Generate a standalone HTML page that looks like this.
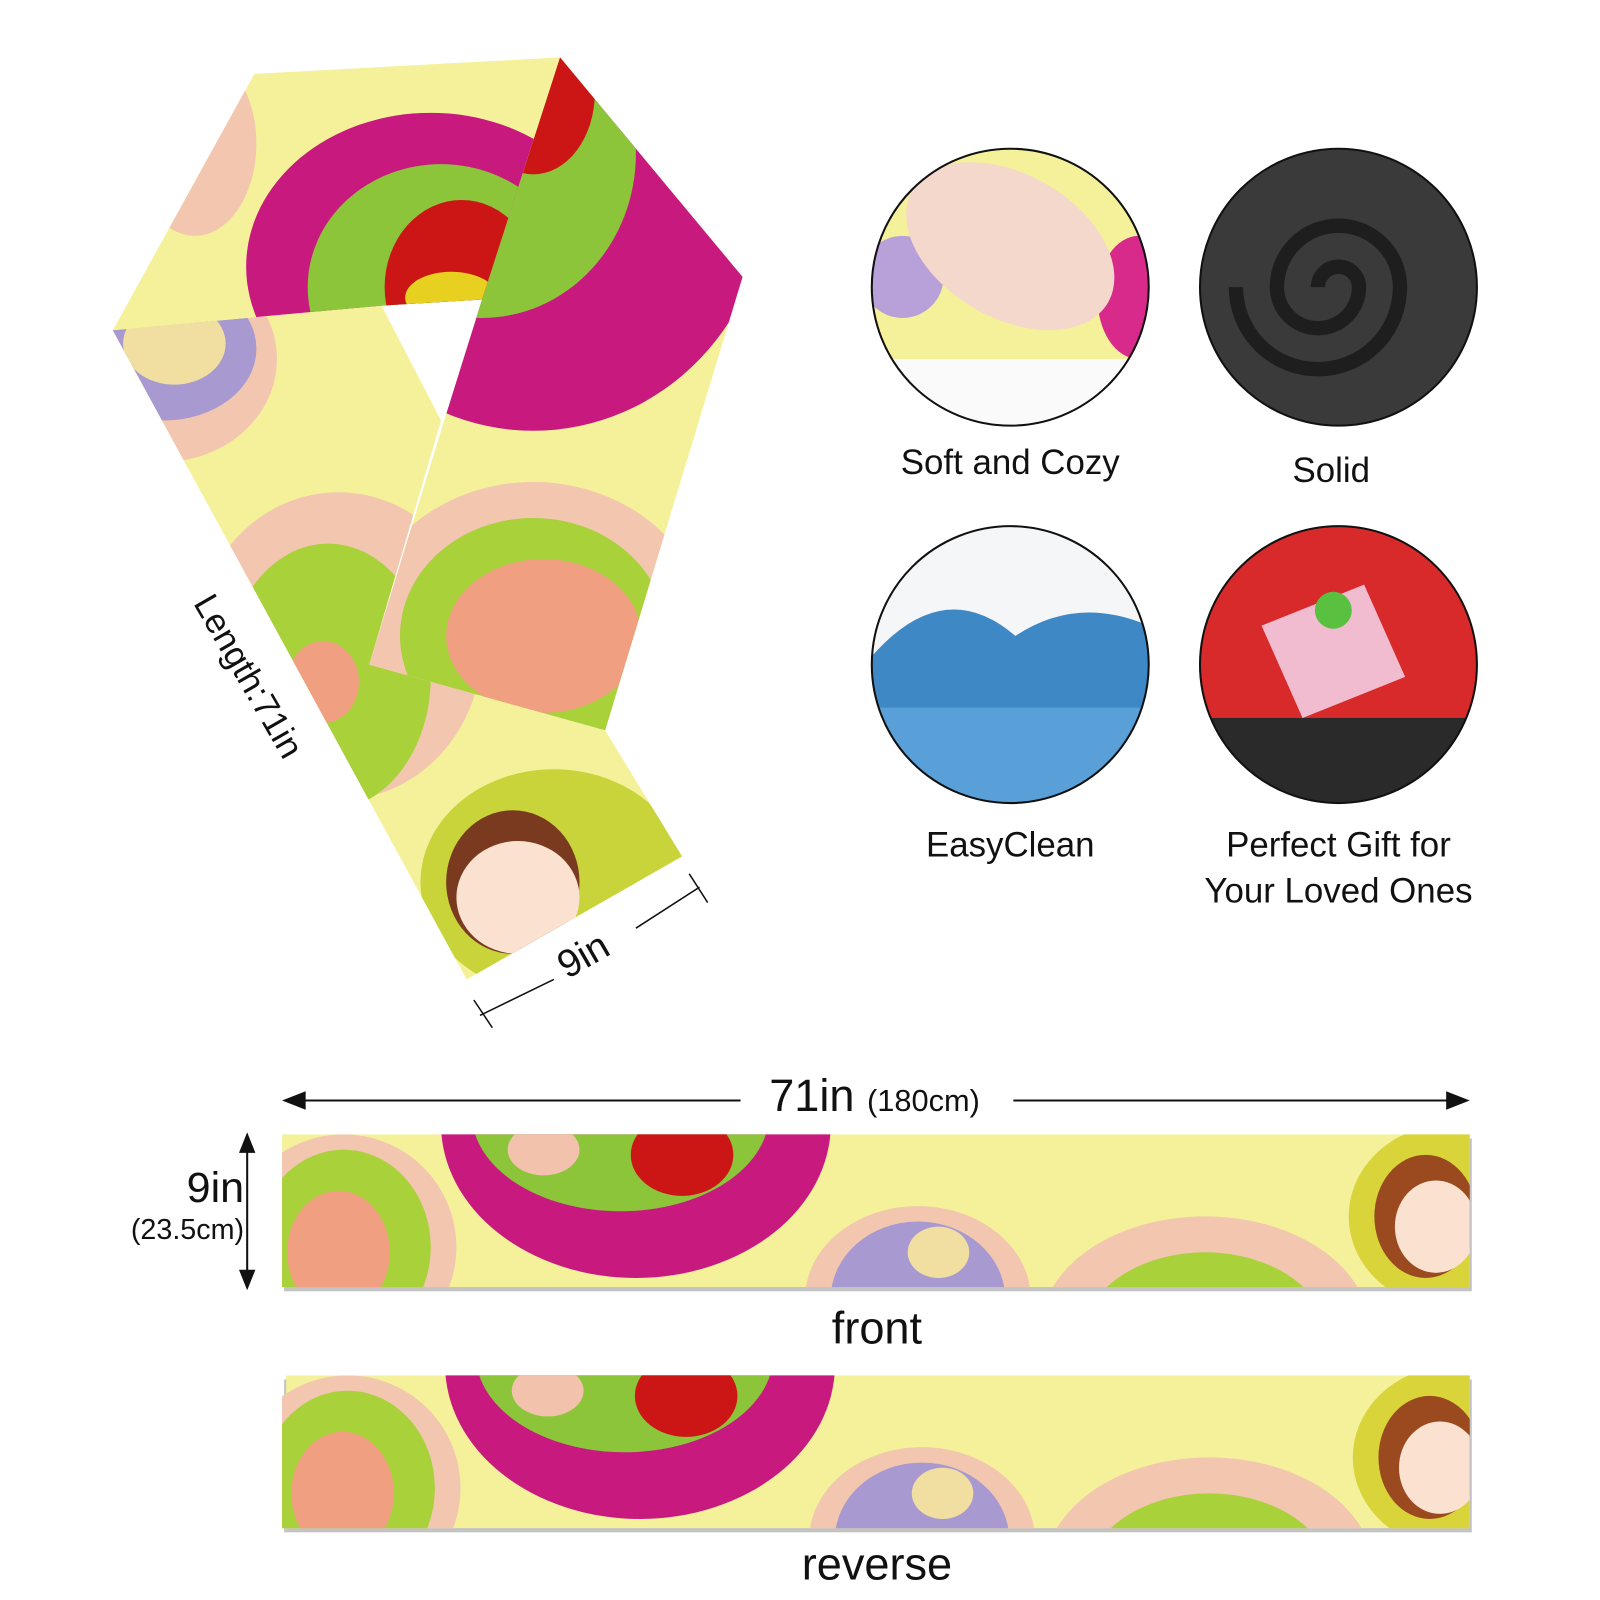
<!DOCTYPE html>
<html><head><meta charset="utf-8"><style>
html,body{margin:0;padding:0;background:#fff;width:1600px;height:1600px;overflow:hidden;}
svg{display:block;}
text{font-family:"Liberation Sans","DejaVu Sans",sans-serif;fill:#111;}
</style></head><body>
<svg width="1600" height="1600" viewBox="0 0 1560 1560" xmlns="http://www.w3.org/2000/svg" style="overflow:hidden">
<defs>
<clipPath id="cA"><polygon points="110,322 248,72 546,56 470,292 372,298 262,308"/></clipPath>
<clipPath id="cB"><polygon points="546,56 724,270 590,712 360,648 430,420 470,292"/></clipPath>
<clipPath id="cC"><polygon points="110,322 372,298 430,410 360,648 590,712 665,835 455,955"/></clipPath>
<clipPath id="cF"><rect x="275" y="1106" width="1158" height="149"/></clipPath>
<clipPath id="cR"><rect x="275" y="1341" width="1158" height="149"/></clipPath>
<clipPath id="k1"><circle cx="985" cy="280" r="135"/></clipPath>
<clipPath id="k2"><circle cx="1305" cy="280" r="135"/></clipPath>
<clipPath id="k3"><circle cx="985" cy="648" r="135"/></clipPath>
<clipPath id="k4"><circle cx="1305" cy="648" r="135"/></clipPath>
<g id="strip">
<rect x="0" y="0" width="1158" height="149" fill="#f4f19a"/>
<ellipse cx="60" cy="110" rx="110" ry="110" fill="#f3c6b0"/>
<ellipse cx="60" cy="110" rx="85" ry="95" fill="#a8d13a"/>
<ellipse cx="55" cy="115" rx="50" ry="60" fill="#f0a080"/>
<ellipse cx="345" cy="-10" rx="190" ry="150" fill="#c8197f"/>
<ellipse cx="330" cy="-20" rx="145" ry="95" fill="#8cc43a"/>
<ellipse cx="390" cy="20" rx="50" ry="40" fill="#cc1515"/>
<ellipse cx="255" cy="15" rx="35" ry="25" fill="#f3c2ac"/>
<ellipse cx="620" cy="160" rx="110" ry="90" fill="#f3c6b0"/>
<ellipse cx="620" cy="160" rx="85" ry="75" fill="#a89ad0"/>
<ellipse cx="640" cy="115" rx="30" ry="25" fill="#f0dfa0"/>
<ellipse cx="900" cy="190" rx="160" ry="110" fill="#f3c6b0"/>
<ellipse cx="900" cy="200" rx="120" ry="85" fill="#a8d13a"/>
<ellipse cx="1140" cy="80" rx="100" ry="90" fill="#d8d43a"/>
<ellipse cx="1115" cy="80" rx="50" ry="60" fill="#9b4a20"/>
<ellipse cx="1125" cy="90" rx="40" ry="45" fill="#fbe2d0"/>
</g>
</defs>
<rect width="1560" height="1560" fill="#fff"/>

<g clip-path="url(#cC)">
<rect x="0" y="0" width="800" height="1000" fill="#f4f19a"/>
<ellipse cx="160" cy="350" rx="110" ry="100" fill="#f3c6b0"/>
<ellipse cx="160" cy="340" rx="90" ry="70" fill="#a89ad0"/>
<ellipse cx="170" cy="335" rx="50" ry="40" fill="#f0dfa0"/>
<ellipse cx="330" cy="630" rx="140" ry="150" fill="#f3c6b0"/>
<ellipse cx="320" cy="660" rx="100" ry="130" fill="#a8d13a"/>
<ellipse cx="315" cy="665" rx="35" ry="40" fill="#f0a080"/>
<ellipse cx="540" cy="860" rx="130" ry="110" fill="#c8d43a"/>
<ellipse cx="500" cy="860" rx="65" ry="70" fill="#7a3a20"/>
<ellipse cx="505" cy="875" rx="60" ry="55" fill="#fbe2d0"/>
</g>
<g clip-path="url(#cB)">
<rect x="300" y="0" width="500" height="800" fill="#f4f19a"/>
<ellipse cx="520" cy="180" rx="230" ry="240" fill="#c8197f"/>
<ellipse cx="470" cy="150" rx="150" ry="160" fill="#8cc43a"/>
<ellipse cx="520" cy="90" rx="60" ry="80" fill="#cc1515"/>
<ellipse cx="520" cy="620" rx="170" ry="150" fill="#f3c6b0"/>
<ellipse cx="520" cy="620" rx="130" ry="115" fill="#a8d13a"/>
<ellipse cx="530" cy="620" rx="95" ry="75" fill="#f0a080"/>
</g>
<g clip-path="url(#cA)">
<rect x="100" y="40" width="500" height="300" fill="#f4f19a"/>
<ellipse cx="190" cy="140" rx="60" ry="90" fill="#f3c6b0"/>
<ellipse cx="420" cy="260" rx="180" ry="150" fill="#c8197f"/>
<ellipse cx="430" cy="280" rx="130" ry="120" fill="#8cc43a"/>
<ellipse cx="450" cy="280" rx="75" ry="85" fill="#cc1515"/>
<ellipse cx="440" cy="290" rx="45" ry="25" fill="#e8d020"/>
</g>

<text x="0" y="0" font-size="34" transform="translate(188,588) rotate(60)">Length:71in</text>
<g stroke="#111" stroke-width="1.5" fill="none">
<line x1="468" y1="990" x2="540" y2="955"/><line x1="620" y1="905" x2="682" y2="865"/>
<line x1="462" y1="975" x2="480" y2="1002"/><line x1="672" y1="852" x2="690" y2="880"/>
</g>
<text x="0" y="0" font-size="38" transform="translate(553,955) rotate(-30)">9in</text>

<g clip-path="url(#k1)">
<rect x="840" y="140" width="300" height="300" fill="#f4f19a"/>
<rect x="840" y="350" width="300" height="100" fill="#fafafa"/>
<ellipse cx="1110" cy="290" rx="40" ry="60" fill="#d82a8a"/>
<ellipse cx="880" cy="270" rx="40" ry="40" fill="#b8a0d8"/>
<ellipse cx="985" cy="240" rx="110" ry="70" fill="#f5d8cc" transform="rotate(30 985 240)"/>
</g>
<circle cx="985" cy="280" r="135" fill="none" stroke="#111" stroke-width="2"/>
<g clip-path="url(#k2)">
<rect x="1160" y="140" width="300" height="300" fill="#3a3a3a"/>
<path d="M1305 280 m-20 0 a20 20 0 1 1 40 0 a40 40 0 1 1 -80 0 a60 60 0 1 1 120 0 a80 80 0 1 1 -160 0" fill="none" stroke="#1e1e1e" stroke-width="14"/>
</g>
<circle cx="1305" cy="280" r="135" fill="none" stroke="#111" stroke-width="2"/>
<g clip-path="url(#k3)">
<rect x="840" y="500" width="300" height="300" fill="#f4f6f8"/>
<path d="M850 640 Q920 560 990 620 Q1050 580 1120 610 L1120 800 L850 800 Z" fill="#3f88c6"/>
<rect x="840" y="690" width="300" height="100" fill="#5aa0d8"/>
</g>
<circle cx="985" cy="648" r="135" fill="none" stroke="#111" stroke-width="2"/>
<g clip-path="url(#k4)">
<rect x="1160" y="500" width="300" height="300" fill="#d82a2a"/>
<rect x="1160" y="700" width="300" height="100" fill="#2a2a2a"/>
<polygon points="1230,610 1330,570 1370,660 1270,700" fill="#f2bcd0"/>
<circle cx="1300" cy="595" r="18" fill="#5ac040"/>
</g>
<circle cx="1305" cy="648" r="135" fill="none" stroke="#111" stroke-width="2"/>

<text x="985" y="462" font-size="34" text-anchor="middle">Soft and Cozy</text>
<text x="1298" y="470" font-size="34" text-anchor="middle">Solid</text>
<text x="985" y="835" font-size="34" text-anchor="middle">EasyClean</text>
<text x="1305" y="835" font-size="34" text-anchor="middle">Perfect Gift for</text>
<text x="1305" y="880" font-size="34" text-anchor="middle">Your Loved Ones</text>

<g stroke="#111" stroke-width="2">
<line x1="290" y1="1073" x2="722" y2="1073"/><line x1="988" y1="1073" x2="1418" y2="1073"/>
<line x1="241" y1="1120" x2="241" y2="1240"/>
</g>
<polygon points="275,1073 298,1064 298,1082" fill="#111"/>
<polygon points="1433,1073 1410,1064 1410,1082" fill="#111"/>
<polygon points="241,1104 233,1124 249,1124" fill="#111"/>
<polygon points="241,1258 233,1238 249,1238" fill="#111"/>
<text x="750" y="1083" font-size="44">71in <tspan font-size="30">(180cm)</tspan></text>
<text x="238" y="1172" font-size="42" text-anchor="end">9in</text>
<text x="238" y="1208" font-size="28" text-anchor="end">(23.5cm)</text>

<rect x="277" y="1110" width="1158" height="149" fill="#888" opacity="0.5"/>
<g clip-path="url(#cF)"><use href="#strip" x="275" y="1106"/></g>
<text x="855" y="1310" font-size="44" text-anchor="middle">front</text>
<rect x="277" y="1345" width="1158" height="149" fill="#888" opacity="0.5"/>
<g clip-path="url(#cR)"><use href="#strip" x="279" y="1341"/></g>
<text x="855" y="1540" font-size="44" text-anchor="middle">reverse</text>
</svg>
</body></html>
